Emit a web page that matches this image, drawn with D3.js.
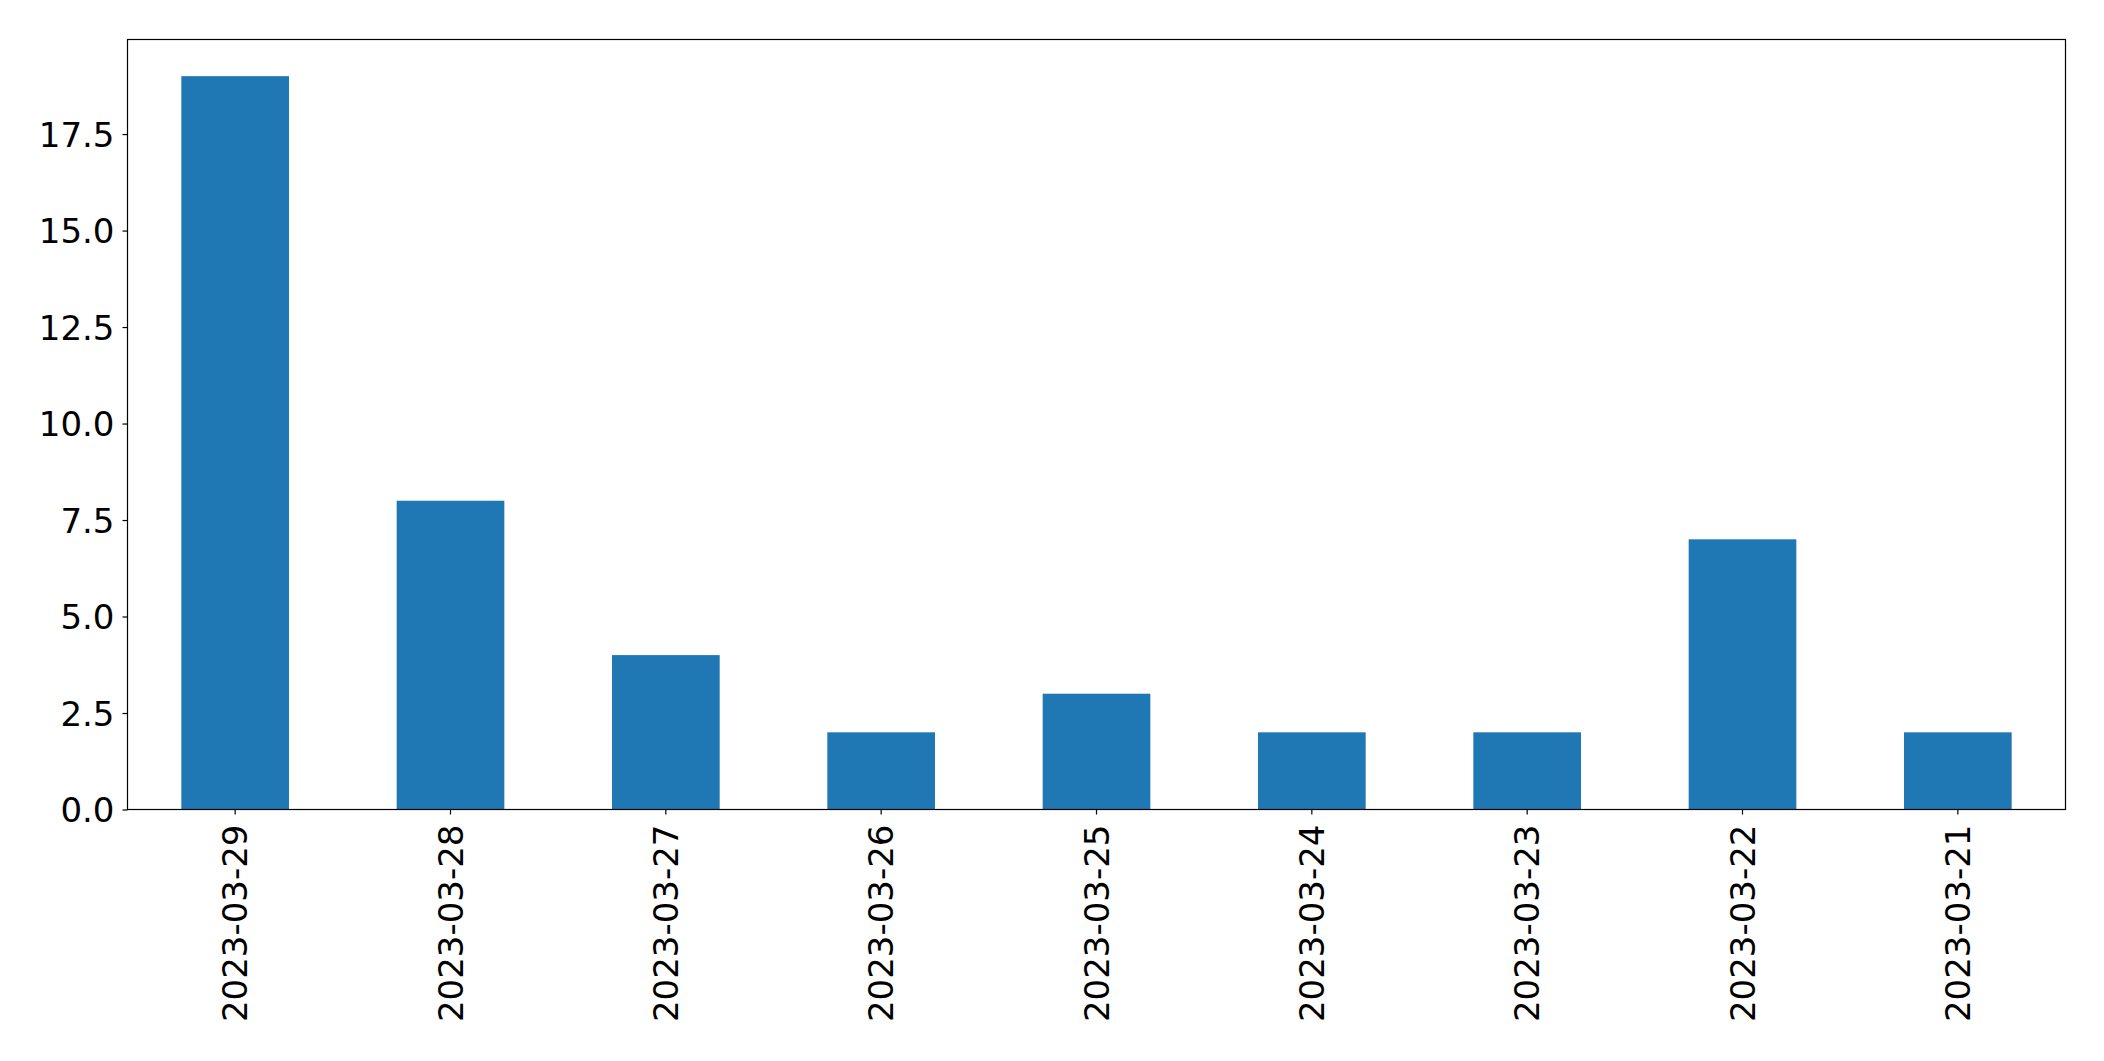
<!DOCTYPE html>
<html><head><meta charset="utf-8">
<script src="https://cdn.jsdelivr.net/npm/d3@7"></script>
<style>html,body{margin:0;padding:0;background:#fff;}svg{display:block;}</style>
</head><body>
<script>
const categories = ["2023-03-29","2023-03-28","2023-03-27","2023-03-26","2023-03-25","2023-03-24","2023-03-23","2023-03-22","2023-03-21"];
const values = [19, 8, 4, 2, 3, 2, 2, 7, 2];
const yTicks = [0, 2.5, 5, 7.5, 10, 12.5, 15, 17.5];

const W = 2104, H = 1061;
const m = {left: 127.5, right: 2065.5, top: 39.5, bottom: 809.5};
const svg = d3.select("body").append("svg").attr("width", W).attr("height", H);

const x = d3.scaleBand().domain(categories).range([m.left, m.right]).paddingInner(0.5).paddingOuter(0.25);
const y = d3.scaleLinear().domain([0, 19.95]).range([m.bottom, m.top]);

svg.append("g").selectAll("rect").data(values).join("rect")
  .attr("x", (d, i) => x(categories[i]))
  .attr("width", x.bandwidth())
  .attr("y", d => y(d))
  .attr("height", d => y(0) - y(d))
  .attr("fill", "#1f77b4");

const font = "DejaVu Sans";
const yAxis = svg.append("g").attr("transform", `translate(${m.left},0)`)
  .call(d3.axisLeft(y).tickValues(yTicks).tickFormat(d3.format(".1f")).tickSizeOuter(0).tickSize(5).tickPadding(8));
yAxis.select(".domain").remove();
yAxis.selectAll("text").attr("font-family", font).attr("font-size", 34).attr("fill", "#000").attr("dy", "0.36em");
yAxis.selectAll("line").attr("stroke", "#000").attr("stroke-width", 1.2);

const xAxis = svg.append("g").attr("transform", `translate(0,${m.bottom})`)
  .call(d3.axisBottom(x).tickSizeOuter(0).tickSize(5).tickPadding(10));
xAxis.select(".domain").remove();
xAxis.selectAll("line").attr("stroke", "#000").attr("stroke-width", 1.2);
xAxis.selectAll("text")
  .attr("font-family", font).attr("font-size", 34).attr("fill", "#000")
  .attr("text-anchor", "end").attr("dy", null)
  .attr("transform", "rotate(-90)")
  .attr("x", -15).attr("y", 0)
  .attr("dominant-baseline", "central");

svg.append("rect").attr("x", m.left).attr("y", m.top)
  .attr("width", m.right - m.left).attr("height", m.bottom - m.top)
  .attr("fill", "none").attr("stroke", "#000").attr("stroke-width", 1.2);
</script>
</body></html>
